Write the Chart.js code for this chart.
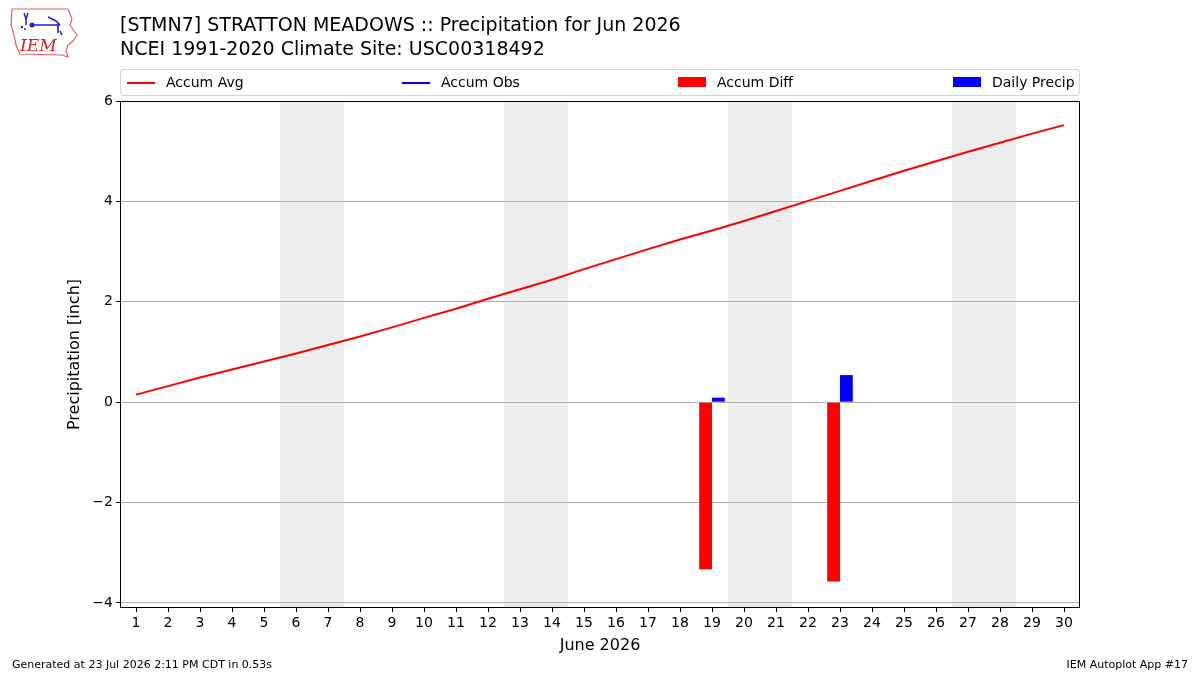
<!DOCTYPE html>
<html><head><meta charset="utf-8">
<script src="https://cdn.jsdelivr.net/npm/chart.js@4.4.1/dist/chart.umd.min.js"></script>
<style>
body{margin:0;background:#fff;font-family:"DejaVu Sans",sans-serif;}
#wrap{position:relative;width:1200px;height:675px;overflow:hidden;background:#fff;}
canvas{position:absolute;left:0;top:0;}
.t{position:absolute;white-space:nowrap;color:#000;line-height:1;}
#legend{position:absolute;left:120px;top:69px;width:958px;height:25px;border:1px solid #d5d5d5;border-radius:3px;background:#fff;}
.li{position:absolute;top:0;height:25px;font-size:14px;line-height:25px;white-space:nowrap;}
.ln{position:absolute;top:12px;width:28px;height:2px;}
.bx{position:absolute;top:7px;width:28px;height:10px;}
</style></head><body>
<div id="wrap">
<canvas id="c" width="1200" height="675"></canvas>
<svg style="position:absolute;left:8px;top:5px" width="72" height="54" viewBox="0 0 72 54">
  <path d="M4 4 L60 4 L62 9 L64 14 L62 20 L66 26 L69 30 L65 36 L60 40 L58 46 L60 52 L54 50 L12 49 L8 40 L6 30 L3 20 Z" fill="none" stroke="#e06060" stroke-width="1.2"/>
  <path d="M16 8 L18 14 M20 8 L18 14 L18 20" stroke="#2020d0" stroke-width="1.5" fill="none"/>
  <circle cx="24" cy="20" r="2.5" fill="#2020d0"/>
  <path d="M24 20 L52 20 M40 12 L48 16 L52 20 M50 20 L50 28 M52 26 L54 30" stroke="#2020d0" stroke-width="1.6" fill="none"/>
  <circle cx="14" cy="22" r="1.2" fill="#2020d0"/><circle cx="17" cy="24" r="1" fill="#2020d0"/>
  <text x="12" y="46" font-family="DejaVu Serif, serif" font-style="italic" font-size="17" fill="#d02020">IEM</text>
</svg>
<div class="t" style="left:120px;top:15px;font-size:19px">[STMN7] STRATTON MEADOWS :: Precipitation for Jun 2026</div>
<div class="t" style="left:120px;top:39px;font-size:19px">NCEI 1991-2020 Climate Site: USC00318492</div>
<div id="legend">
  <div class="ln" style="left:6px;background:#ff0000"></div><div class="li" style="left:45px">Accum Avg</div>
  <div class="ln" style="left:281px;background:#0000ff"></div><div class="li" style="left:320px">Accum Obs</div>
  <div class="bx" style="left:557px;background:#ff0000"></div><div class="li" style="left:596px">Accum Diff</div>
  <div class="bx" style="left:832px;background:#0000ff"></div><div class="li" style="left:871px">Daily Precip</div>
</div>
<div class="t" style="left:12px;top:659px;font-size:11px">Generated at 23 Jul 2026 2:11 PM CDT in 0.53s</div>
<div class="t" style="right:12px;top:659px;font-size:11px">IEM Autoplot App #17</div>
</div>
<script>
const days = ["1","2","3","4","5","6","7","8","9","10","11","12","13","14","15","16","17","18","19","20","21","22","23","24","25","26","27","28","29","30"];
const accumAvg = [0.15,0.32,0.49,0.65,0.81,0.97,1.14,1.31,1.49,1.68,1.86,2.06,2.25,2.44,2.65,2.85,3.05,3.24,3.42,3.61,3.81,4.01,4.21,4.41,4.61,4.80,4.99,5.17,5.35,5.52];
const accumObs = [null,null,null,null,null,null,null,null,null,null,null,null,null,null,null,null,null,null,0.09,null,null,null,0.63,null,null,null,null,null,null,null];
const accumDiff = [null,null,null,null,null,null,null,null,null,null,null,null,null,null,null,null,null,null,-3.33,null,null,null,-3.57,null,null,null,null,null,null,null];
const dailyPrecip = [null,null,null,null,null,null,null,null,null,null,null,null,null,null,null,null,null,null,0.09,null,null,null,0.54,null,null,null,null,null,null,null];
const weekends = [["6","7"],["13","14"],["20","21"],["27","28"]];
const yTicks = [-4,-2,0,2,4,6];

const shade = {
  id:'shade',
  beforeDraw(chart){
    const {ctx, chartArea:a, scales:{x}} = chart;
    const half = (x.getPixelForValue(1) - x.getPixelForValue(0))/2;
    ctx.save();
    ctx.fillStyle = '#ededed';
    weekends.forEach(([s,e])=>{
      const x1 = x.getPixelForValue(days.indexOf(s)) - half;
      const x2 = x.getPixelForValue(days.indexOf(e)) + half;
      ctx.fillRect(x1, a.top, x2-x1, a.bottom-a.top);
    });
    ctx.restore();
  },
  afterDraw(chart){
    const {ctx, chartArea:a} = chart;
    ctx.save();
    ctx.strokeStyle = '#000'; ctx.lineWidth = 1;
    ctx.strokeRect(Math.round(a.left)+0.5, Math.round(a.top)+0.5, Math.round(a.right-a.left)-1, Math.round(a.bottom-a.top)-1);
    ctx.restore();
  }
};

Chart.defaults.font.family = '"DejaVu Sans", sans-serif';
Chart.defaults.color = '#000';

new Chart(document.getElementById('c'), {
  type:'bar',
  data:{
    labels: days,
    datasets:[
      {type:'line', label:'Accum Avg', data:accumAvg, borderColor:'#ff0000', backgroundColor:'#ff0000', borderWidth:2, pointRadius:0, tension:0, order:0},
      {type:'line', label:'Accum Obs', data:accumObs, borderColor:'#0000ff', backgroundColor:'#0000ff', borderWidth:2, pointRadius:0, spanGaps:false, order:0},
      {label:'Accum Diff', data:accumDiff, backgroundColor:'#ff0000', categoryPercentage:0.8, barPercentage:1.0, order:1},
      {label:'Daily Precip', data:dailyPrecip, backgroundColor:'#0000ff', categoryPercentage:0.8, barPercentage:1.0, order:1}
    ]
  },
  options:{
    responsive:false, animation:false, devicePixelRatio:1,
    layout:{padding:{left:0, right:120, top:101, bottom:0}},
    plugins:{legend:{display:false}, tooltip:{enabled:false}},
    scales:{
      x:{
        offset:true,
        grid:{offset:false, drawOnChartArea:false, drawTicks:true, tickLength:4, color:'#000'},
        border:{display:false},
        ticks:{font:{size:14}, maxRotation:0, autoSkip:false, padding:3},
        title:{display:true, text:'June 2026', font:{size:16}, padding:{top:4, bottom:20}},
        afterFit(s){ s.height = 67; }
      },
      y:{
        min:-4.1, max:6,
        afterBuildTicks(s){ s.ticks = yTicks.map(v=>({value:v})); },
        grid:{color:'#b0b0b0', lineWidth:1, drawTicks:true, tickLength:4, tickColor:'#000'},
        border:{display:false},
        ticks:{font:{size:14}, padding:3, callback:v=> v<0 ? '\u2212'+Math.abs(v) : String(v)},
        title:{display:true, text:'Precipitation [inch]', font:{size:16}, padding:{top:65, bottom:0}},
        afterFit(s){ s.width = 120; }
      }
    }
  },
  plugins:[shade]
});
</script>
</body></html>
